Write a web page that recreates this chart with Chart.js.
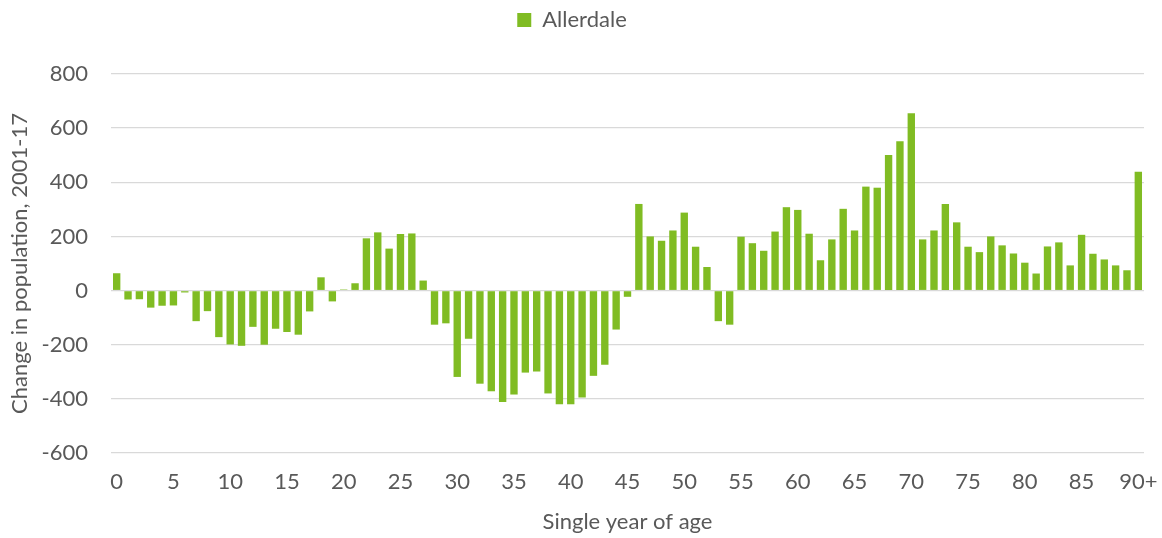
<!DOCTYPE html>
<html>
<head>
<meta charset="utf-8">
<script src="https://cdn.jsdelivr.net/npm/chart.js@4/dist/chart.umd.min.js"></script>
<style>
html,body{margin:0;padding:0;background:#fff;}
#wrap{width:1162px;height:538px;position:relative;}
</style>
</head>
<body>
<div id="wrap"><canvas id="c" width="1162" height="538"></canvas></div>
<script>
const ages = [];
for (let i = 0; i < 90; i++) ages.push(String(i));
ages.push("90+");

const seriesName = "Allerdale";
const changeValues = [
  64, -33, -32, -63, -56, -55, -7, -113, -76, -172,
  -199, -204, -134, -200, -141, -153, -163, -77, 49, -40,
  4, 27, 193, 215, 155, 209, 211, 37, -126, -121,
  -319, -178, -344, -372, -412, -384, -303, -299, -380, -420,
  -420, -395, -315, -274, -144, -23, 320, 200, 184, 222,
  288, 162, 87, -113, -126, 199, 175, 147, 218, 308,
  298, 210, 112, 189, 302, 222, 384, 380, 501, 552,
  655, 189, 222, 320, 252, 162, 142, 200, 167, 137,
  103, 63, 163, 178, 93, 206, 136, 115, 93, 75,
  439
];
const yTicks = [-600, -400, -200, 0, 200, 400, 600, 800];

const textColor = '#595959';
const fontFamily = 'Lato, "Open Sans", sans-serif';
const fs = 22;

const legendMargin = {
  id: 'legendMargin',
  beforeInit(chart) {
    const origFit = chart.legend.fit;
    chart.legend.fit = function() {
      origFit.bind(chart.legend)();
      this.height += 33;
    };
  }
};

new Chart(document.getElementById('c'), {
  type: 'bar',
  data: {
    labels: ages,
    datasets: [{
      label: seriesName,
      data: changeValues,
      backgroundColor: '#80bc23',
      borderWidth: 0,
      categoryPercentage: 1.0,
      barPercentage: 0.65
    }]
  },
  plugins: [legendMargin],
  options: {
    responsive: false,
    animation: false,
    devicePixelRatio: 1,
    layout: { padding: { top: 3, right: 18, bottom: 0, left: 0 } },
    plugins: {
      legend: {
        position: 'top',
        labels: {
          color: textColor,
          font: { family: fontFamily, size: fs },
          boxWidth: 14,
          boxHeight: 14,
          padding: 6
        }
      },
      tooltip: { enabled: false }
    },
    scales: {
      x: {
        grid: { display: false },
        border: { display: false },
        afterFit: function(axis) { axis.height = 85; axis.paddingRight = 0; axis.paddingLeft = 0; },
        ticks: {
          color: textColor,
          font: { family: fontFamily, size: fs },
          autoSkip: false,
          maxRotation: 0,
          padding: 8,
          callback: function(val, idx) { return idx % 5 === 0 ? this.getLabelForValue(val) : ''; }
        },
        title: {
          display: true,
          text: 'Single year of age',
          color: textColor,
          font: { family: fontFamily, size: fs },
          padding: { top: 4, bottom: 3 }
        }
      },
      y: {
        min: -600,
        max: 800,
        afterBuildTicks: function(axis) { axis.ticks = yTicks.map(v => ({ value: v })); },
        afterFit: function(axis) { axis.width = 111; },
        grid: { color: '#d9d9d9', lineWidth: 1.3, drawTicks: false },
        border: { display: false },
        ticks: {
          color: textColor,
          font: { family: fontFamily, size: fs },
          padding: 23
        },
        title: {
          display: true,
          text: 'Change in population, 2001-17',
          color: textColor,
          font: { family: fontFamily, size: fs },
          padding: { top: 7, bottom: 4 }
        }
      }
    }
  }
});
</script>
</body>
</html>
